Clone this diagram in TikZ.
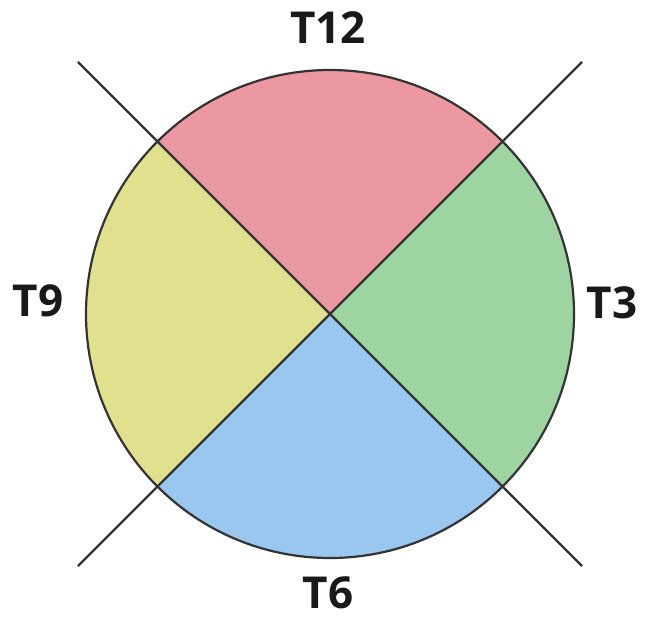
\documentclass[tikz,border=0pt]{standalone}
\usepackage{fontspec}
\setmainfont{Open Sans}
\usetikzlibrary{calc}
\definecolor{qred}{HTML}{EC98A0}
\definecolor{qgreen}{HTML}{9DD4A1}
\definecolor{qyellow}{HTML}{E0E08E}
\definecolor{qblue}{HTML}{9AC7EF}
\definecolor{edge}{HTML}{333333}
\begin{document}
\begin{tikzpicture}[x=1pt,y=1pt,
  lbl/.style={font=\fontsize{44}{44}\selectfont\bfseries, text=black!90, inner sep=0pt},
  wedge/.style={draw=edge, line width=2.2pt, line join=round},
  diag/.style={draw=edge, line width=2.2pt}]
\useasboundingbox (0,0) rectangle (650,619);
\coordinate (O) at (330,305);
\def\R{244}
\fill[qred]    (O) -- ++(45:\R)  arc[start angle=45,  end angle=135, radius=\R] -- cycle;
\fill[qyellow] (O) -- ++(135:\R) arc[start angle=135, end angle=225, radius=\R] -- cycle;
\fill[qblue]   (O) -- ++(225:\R) arc[start angle=225, end angle=315, radius=\R] -- cycle;
\fill[qgreen]  (O) -- ++(315:\R) arc[start angle=315, end angle=405, radius=\R] -- cycle;
\draw[wedge] (O) circle[radius=\R];
\coordinate (A) at ($(O)+(-252,252)$);
\coordinate (B) at ($(O)+(252,-252)$);
\coordinate (C) at ($(O)+(252,252)$);
\coordinate (D) at ($(O)+(-252,-252)$);
\draw[diag] (A) -- (B);
\draw[diag] (C) -- (D);
\node[lbl] (t12) at (328,591) {T12};
\node[lbl] (t9) at (38,318) {T9};
\node[lbl] (t3) at (612,316) {T3};
\node[lbl] (t6) at (328,26) {T6};
\end{tikzpicture}
\end{document}
